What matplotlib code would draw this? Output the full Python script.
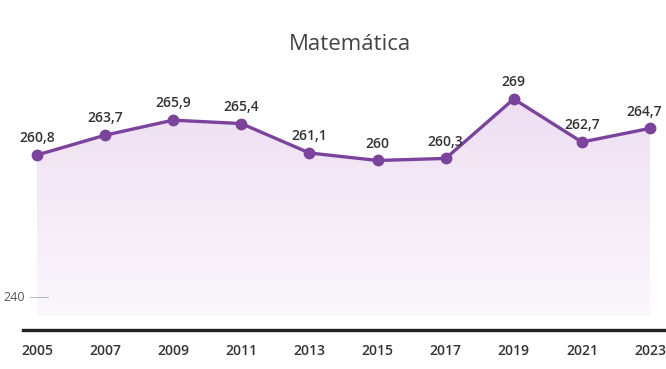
import numpy as np
import matplotlib.pyplot as plt
from matplotlib.colors import LinearSegmentedColormap
from matplotlib.patches import Polygon

years = [2005, 2007, 2009, 2011, 2013, 2015, 2017, 2019, 2021, 2023]
scores = [260.8, 263.7, 265.9, 265.4, 261.1, 260.0, 260.3, 269.0, 262.7, 264.7]
labels = ["260,8", "263,7", "265,9", "265,4", "261,1", "260", "260,3", "269", "262,7", "264,7"]

line_color = "#7b439e"
text_color = "#333333"
plt.rcParams["font.family"] = ["Open Sans", "DejaVu Sans"]

fig = plt.figure(figsize=(6.66, 3.69), dpi=100)
ax = fig.add_axes([23 / 666, 39 / 369, 643 / 666, 270 / 369])
ax.set_xlim(2004.59, 2023.47)
ax.set_ylim(235.2, 274.7)

# gradient fill under the line
fill_bottom = 237.2
cmap = LinearSegmentedColormap.from_list("fill", ["#fbf7fc", "#eedff2"])
grad = np.linspace(0, 1, 256).reshape(-1, 1)
img = ax.imshow(grad, cmap=cmap, aspect="auto", origin="lower",
                extent=[years[0], years[-1], fill_bottom, max(scores)], zorder=1)
poly = Polygon(list(zip(years, scores)) + [(years[-1], fill_bottom), (years[0], fill_bottom)],
               closed=True, facecolor="none", edgecolor="none")
ax.add_patch(poly)
img.set_clip_path(poly)

ax.plot(years, scores, color=line_color, lw=2.4, marker="o", ms=7.5, zorder=3)

for i, (x, y, lab) in enumerate(zip(years, scores, labels)):
    dx = -4 if i == len(years) - 1 else 0
    ax.annotate(lab, (x, y), xytext=(dx, 7), textcoords="offset points",
                ha="center", va="bottom", fontsize=10, fontweight="semibold",
                color=text_color, zorder=4)

# 240 reference tick
ax.axhline(240, xmin=7 / 643, xmax=25 / 643, color="#bbbbbb", lw=0.8)
ax.text(0.003, 240, "240", transform=ax.get_yaxis_transform(), ha="right", va="center",
        fontsize=9, color="#555555")

for s in ["top", "right", "left"]:
    ax.spines[s].set_visible(False)
ax.spines["bottom"].set_linewidth(2.4)
ax.spines["bottom"].set_color("#222222")
ax.set_yticks([])
ax.set_xticks(years)
ax.set_xticklabels([str(y) for y in years], fontsize=10, fontweight="semibold", color=text_color)
ax.tick_params(axis="x", length=0, pad=10)

fig.text(0.525, 0.88, "Matemática", ha="center", va="center", fontsize=16, color="#444444")

fig.savefig("out.png", dpi=100)
